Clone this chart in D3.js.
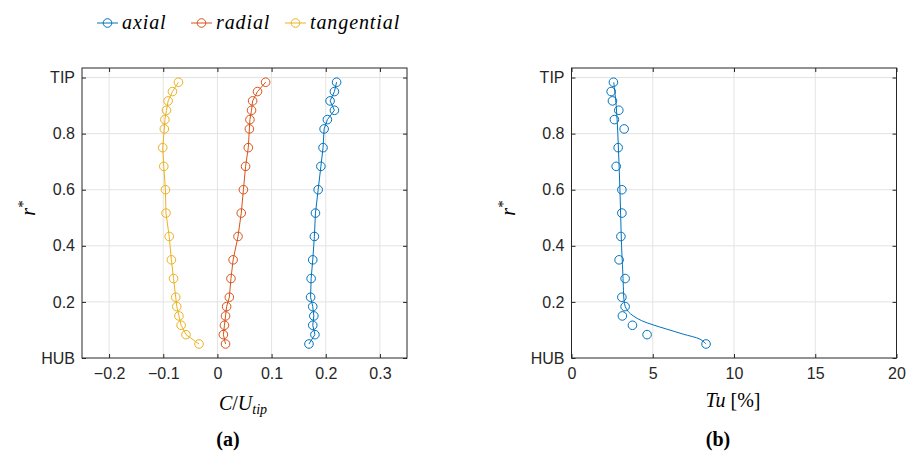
<!DOCTYPE html>
<html><head><meta charset="utf-8">
<script src="https://cdn.jsdelivr.net/npm/d3@7"></script>
<style>
body{margin:0;background:#fff;}
svg{display:block;}
.tick text{font-family:"Liberation Sans",Arial,sans-serif;font-size:16px;fill:#262626;}
</style></head>
<body>
<svg id="chart" width="908" height="453"></svg>
<script>
// ---- data ----
const rStar = [0.05, 0.0833, 0.1167, 0.15, 0.1833, 0.2167, 0.2833, 0.35, 0.4333, 0.5167, 0.6, 0.6833, 0.75, 0.8167, 0.85, 0.8833, 0.9167, 0.95, 0.9833];
const axial = [0.169, 0.180, 0.176, 0.178, 0.176, 0.172, 0.173, 0.176, 0.179, 0.181, 0.186, 0.191, 0.195, 0.197, 0.203, 0.216, 0.208, 0.216, 0.220];
const radial = [0.015, 0.011, 0.013, 0.015, 0.017, 0.022, 0.025, 0.029, 0.038, 0.044, 0.048, 0.052, 0.057, 0.059, 0.060, 0.063, 0.065, 0.074, 0.089];
const tangential = [-0.034, -0.058, -0.067, -0.071, -0.075, -0.077, -0.081, -0.085, -0.089, -0.095, -0.096, -0.099, -0.101, -0.098, -0.097, -0.094, -0.091, -0.083, -0.072];
const tu = [8.28, 4.65, 3.75, 3.13, 3.30, 3.10, 3.30, 2.93, 3.04, 3.10, 3.10, 2.75, 2.87, 3.24, 2.64, 2.91, 2.52, 2.44, 2.58];
const tuFitR = [0.05, 0.067, 0.085, 0.103, 0.118, 0.133, 0.15, 0.165, 0.183, 0.207, 0.254, 0.314, 0.4, 0.5, 0.6, 0.7, 0.8, 0.9, 0.983];
const tuFitTu = [8.28, 7.91, 6.88, 5.86, 5.03, 4.32, 3.80, 3.50, 3.31, 3.23, 3.19, 3.15, 3.08, 3.03, 2.98, 2.92, 2.85, 2.75, 2.60];
const seriesNames = ["axial", "radial", "tangential"];
const seriesColors = ["#0072BD", "#D95319", "#EDB120"];
const yTicks = [0, 0.2, 0.4, 0.6, 0.8, 1];
const xTicksA = [-0.2, -0.1, 0, 0.1, 0.2, 0.3];
const xTicksB = [0, 5, 10, 15, 20];

const svg = d3.select("#chart");
const axisColor = "#262626", gridColor = "#e3e3e3";

const y = d3.scaleLinear().domain([0, 1.034]).range([358, 68]);
const xA = d3.scaleLinear().domain([-0.25, 0.35]).range([82, 407]);
const xB = d3.scaleLinear().domain([0, 20]).range([571.5, 896.5]);

const yFmt = d => d === 0 ? "HUB" : (d === 1 ? "TIP" : d3.format(".1f")(d));

function drawAxes(x, xTicks, xFmt) {
  const g = svg.append("g");
  const [x0, x1] = x.range();
  const [y0, y1] = y.range();
  // grid
  g.append("g").selectAll("line").data(xTicks.filter(t => x(t) > x0 + 1 && x(t) < x1 - 1)).join("line")
    .attr("x1", d => x(d)).attr("x2", d => x(d)).attr("y1", y0).attr("y2", y1)
    .attr("stroke", gridColor).attr("stroke-width", 1);
  g.append("g").selectAll("line").data(yTicks.filter(t => y(t) < y0 - 1 && y(t) > y1 + 1)).join("line")
    .attr("x1", x0).attr("x2", x1).attr("y1", d => y(d)).attr("y2", d => y(d))
    .attr("stroke", gridColor).attr("stroke-width", 1);
  // axes
  const ax = [
    [d3.axisBottom(x).tickValues(xTicks).tickFormat(xFmt).tickSize(-4).tickPadding(10), `translate(0,${y0})`],
    [d3.axisTop(x).tickValues(xTicks).tickFormat("").tickSize(-4), `translate(0,${y1})`],
    [d3.axisLeft(y).tickValues(yTicks).tickFormat(yFmt).tickSize(-4).tickPadding(7), `translate(${x0},0)`],
    [d3.axisRight(y).tickValues(yTicks).tickFormat("").tickSize(-4), `translate(${x1},0)`]
  ];
  ax.forEach(([a, t]) => {
    const gg = g.append("g").attr("transform", t).call(a);
    gg.select(".domain").attr("stroke", axisColor).attr("d", null);
    gg.selectAll(".tick line").attr("stroke", axisColor);
  });
  g.append("rect").attr("x", x0).attr("y", y1).attr("width", x1 - x0).attr("height", y0 - y1)
    .attr("fill", "none").attr("stroke", axisColor).attr("stroke-width", 1);
  return g;
}

drawAxes(xA, xTicksA, d => d === 0 ? "0" : d3.format(".1f")(d));
drawAxes(xB, xTicksB, d3.format("d"));

// plot (a)
const seriesVals = [axial, radial, tangential];
seriesVals.forEach((vals, i) => {
  const pts = rStar.map((r, j) => [vals[j], r]);
  svg.append("path").datum(pts)
    .attr("d", d3.line().x(d => xA(d[0])).y(d => y(d[1])))
    .attr("fill", "none").attr("stroke", seriesColors[i]).attr("stroke-width", 1);
  svg.append("g").selectAll("circle").data(pts).join("circle")
    .attr("cx", d => xA(d[0])).attr("cy", d => y(d[1])).attr("r", 4.3)
    .attr("fill", "none").attr("stroke", seriesColors[i]).attr("stroke-width", 1);
});

// plot (b)
const fit = tuFitR.map((r, j) => [tuFitTu[j], r]);
svg.append("path").datum(fit)
  .attr("d", d3.line().x(d => xB(d[0])).y(d => y(d[1])).curve(d3.curveCatmullRom))
  .attr("fill", "none").attr("stroke", seriesColors[0]).attr("stroke-width", 1);
svg.append("g").selectAll("circle").data(rStar.map((r, j) => [tu[j], r])).join("circle")
  .attr("cx", d => xB(d[0])).attr("cy", d => y(d[1])).attr("r", 4.3)
  .attr("fill", "none").attr("stroke", seriesColors[0]).attr("stroke-width", 1);

// labels
const serif = '"Liberation Serif","Times New Roman",serif';
function yLabel(cx) {
  const t = svg.append("text").attr("transform", `translate(${cx},208) rotate(-90)`)
    .attr("text-anchor", "middle").attr("font-family", serif).attr("font-size", 20).attr("fill", "#000");
  t.append("tspan").attr("font-style", "italic").text("r");
  t.append("tspan").attr("dy", -7).attr("font-size", 15).text("*");
}
yLabel(35); yLabel(515);

const xl = svg.append("text").attr("x", 243).attr("y", 410).attr("text-anchor", "middle")
  .attr("font-family", serif).attr("font-size", 20).attr("fill", "#000");
xl.append("tspan").attr("font-style", "italic").text("C");
xl.append("tspan").text("/");
xl.append("tspan").attr("font-style", "italic").text("U");
xl.append("tspan").attr("font-style", "italic").attr("font-size", 14).attr("dy", 4).text("tip");

const xl2 = svg.append("text").attr("x", 733).attr("y", 407).attr("text-anchor", "middle")
  .attr("font-family", serif).attr("font-size", 20).attr("fill", "#000");
xl2.append("tspan").attr("font-style", "italic").text("Tu");
xl2.append("tspan").text(" [%]");

svg.append("text").attr("x", 228).attr("y", 446).attr("text-anchor", "middle")
  .attr("font-family", serif).attr("font-size", 20).attr("font-weight", "bold").text("(a)");
svg.append("text").attr("x", 718).attr("y", 446).attr("text-anchor", "middle")
  .attr("font-family", serif).attr("font-size", 20).attr("font-weight", "bold").text("(b)");

// legend
const legX = [97, 191, 285];
seriesNames.forEach((n, i) => {
  const g = svg.append("g").attr("transform", `translate(${legX[i]},23)`);
  g.append("line").attr("x1", 0).attr("x2", 21).attr("stroke", seriesColors[i]).attr("stroke-width", 1);
  g.append("circle").attr("cx", 10.5).attr("r", 4.3).attr("fill", "none").attr("stroke", seriesColors[i]);
  g.append("text").attr("x", 25).attr("y", 6).attr("font-family", serif).attr("font-style", "italic")
    .attr("font-size", 20).attr("letter-spacing", 0.9).attr("fill", "#000").text(n);
});
</script>
</body></html>
